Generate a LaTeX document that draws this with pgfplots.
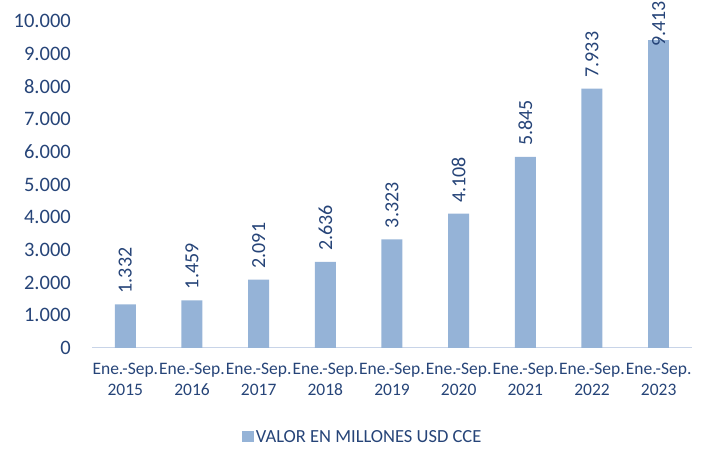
\documentclass[border=0pt]{standalone}
\usepackage{fontspec}
\setmainfont{Carlito}
\usepackage{pgfplots}
\pgfplotsset{compat=1.18}
\usetikzlibrary{calc}
\definecolor{barcol}{RGB}{149,179,215}
\definecolor{txtcol}{RGB}{38,68,120}
\definecolor{axcol}{RGB}{200,212,232}
\begin{document}
\begin{tikzpicture}
\begin{axis}[
  name=ax,
  scale only axis,
  width=600pt, height=327pt,
  xmin=-0.5, xmax=8.5,
  ymin=0, ymax=10000,
  ytick={0,1000,...,10000},
  scaled y ticks=false,
  xtick={0,...,8},
  xticklabels={{Ene.-Sep.\\2015},{Ene.-Sep.\\2016},{Ene.-Sep.\\2017},{Ene.-Sep.\\2018},{Ene.-Sep.\\2019},{Ene.-Sep.\\2020},{Ene.-Sep.\\2021},{Ene.-Sep.\\2022},{Ene.-Sep.\\2023}},
  axis x line*=bottom,
  axis y line*=left,
  x axis line style={draw=axcol, line width=1pt, -},
  y axis line style={draw=none},
  major tick length=0pt,
  /pgf/number format/.cd, 1000 sep={.}, assume math mode=true,
  /pgfplots/.cd,
  yticklabel style={font=\fontsize{20.5}{24}\selectfont, text=txtcol, inner sep=0pt, anchor=east, xshift=-21pt},
  xticklabel style={font=\fontsize{17.5}{20.5}\selectfont, text=txtcol, align=center, inner sep=0pt, anchor=north, yshift=-15pt},
  clip=false,
  ybar, bar width=21pt, bar shift=0pt,
  legend style={draw=none, fill=none, at={(0.452,-0.272)}, anchor=center, font=\fontsize{18.5}{21}\selectfont, text=txtcol, inner sep=0pt, nodes={inner xsep=2.5pt, inner ysep=0pt}},
  legend image code/.code={\fill[barcol] (0pt,-5.5pt) rectangle (11pt,5.5pt);},
]
\addplot[fill=barcol, draw=none, nodes near coords,
  every node near coord/.style={font=\fontsize{20}{24}\selectfont, text=txtcol, rotate=90, anchor=west, inner xsep=11pt, inner ysep=0pt}]
  coordinates {(0,1332) (1,1459) (2,2091) (3,2636) (4,3323) (5,4108) (6,5845) (7,7933)};
\addlegendentry{VALOR EN MILLONES USD CCE}
\addplot[fill=barcol, draw=none, forget plot, nodes near coords,
  every node near coord/.style={font=\fontsize{20}{24}\selectfont, text=txtcol, yshift=-7pt, rotate=90, anchor=west, inner xsep=0pt, inner ysep=0pt}]
  coordinates {(8,9413)};
\end{axis}
\pgfresetboundingbox
\path[use as bounding box] ($(ax.south west)+(-92pt,-101pt)$) rectangle ++(704pt,449pt);
\end{tikzpicture}
\end{document}
